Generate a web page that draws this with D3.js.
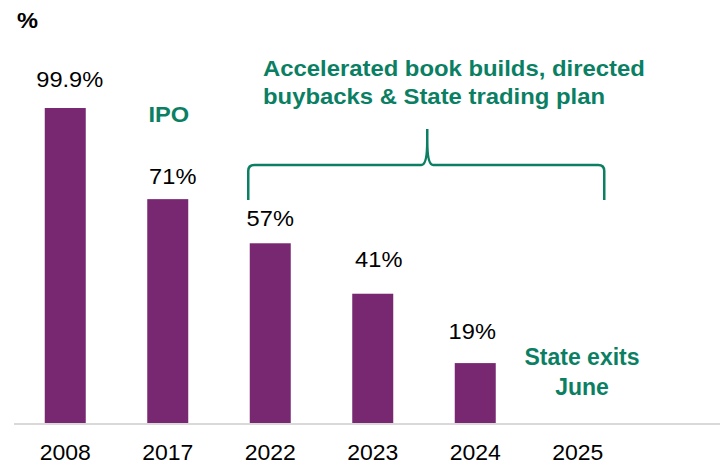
<!DOCTYPE html>
<html>
<head>
<meta charset="utf-8">
<script src="https://cdn.jsdelivr.net/npm/d3@7"></script>
<style>
  html, body { margin: 0; padding: 0; background: #fff; }
  svg { display: block; font-family: Arial, "Liberation Sans", sans-serif; }
</style>
</head>
<body>
<svg id="chart" width="720" height="464"></svg>
<script>
const categories = ["2008", "2017", "2022", "2023", "2024", "2025"];
const values = [99.9, 71, 57, 41, 19, null];
const valueLabels = ["99.9%", "71%", "57%", "41%", "19%", ""];
const unitLabel = "%";
const ipoNote = ["IPO"];
const bracketNote = ["Accelerated book builds, directed", "buybacks & State trading plan"];
const exitNote = ["State exits", "June"];

// layout: per-label nudges (px) as placed in the original slide
const labelNudgeX = [4.5, 5, 0, 6, -3, 0];
const labelGap = [21, 15, 17, 27, 24, 0];

const purple = "#772871";
const green = "#0b7f63";
const SX = 1.075;

const svg = d3.select("#chart");

const x = d3.scaleBand()
  .domain(categories)
  .range([14, 629])
  .paddingInner(0.6)
  .paddingOuter(0.3);

const y = d3.scaleLinear().domain([0, 100]).range([423, 107.7]);

function label(px, py, txt, opts) {
  const g = svg.append("g").attr("transform", `translate(${px},${py}) scale(${opts.sx || SX},1)`);
  g.append("text")
    .attr("x", 0).attr("y", 0)
    .attr("text-anchor", opts.anchor || "start")
    .attr("font-size", opts.size || 22)
    .attr("font-weight", opts.bold ? "bold" : "normal")
    .attr("fill", opts.fill || "#000")
    .text(txt);
}

// baseline
svg.append("line")
  .attr("x1", 14).attr("x2", 720)
  .attr("y1", y(0) + 1).attr("y2", y(0) + 1)
  .attr("stroke", "#d9d9d9").attr("stroke-width", 2);

// bars
const data = categories.map((c, i) => ({ c, v: values[i], l: valueLabels[i], i }));
svg.selectAll("rect.bar")
  .data(data.filter(d => d.v != null))
  .join("rect")
  .attr("class", "bar")
  .attr("x", d => x(d.c))
  .attr("width", x.bandwidth())
  .attr("y", d => y(d.v))
  .attr("height", d => y(0) - y(d.v))
  .attr("fill", purple);

// value labels
data.filter(d => d.v != null).forEach(d => {
  label(x(d.c) + x.bandwidth() / 2 + labelNudgeX[d.i], y(d.v) - labelGap[d.i], d.l, { anchor: "middle", size: 22 });
});

// x axis labels
const xAxis = d3.axisBottom(x).tickSize(0).tickPadding(0);
const gx = svg.append("g").attr("transform", `translate(0,${y(0)})`).call(xAxis);
gx.select(".domain").remove();
gx.selectAll(".tick text")
  .attr("y", 37)
  .attr("dy", null)
  .attr("transform", `scale(${SX - 0.03},1)`)
  .attr("font-size", 22)
  .attr("font-family", "Arial, 'Liberation Sans', sans-serif")
  .attr("fill", "#000");

// unit label
label(17, 28, unitLabel, { size: 22, bold: true });

// IPO
label(x("2017") + x.bandwidth() / 2 + 1, 122, ipoNote[0], { anchor: "middle", size: 22, bold: true, fill: green });

// bracket annotation text
bracketNote.forEach((t, i) => {
  label(263, 76 + i * 27.5, t, { size: 22, bold: true, fill: green, sx: 1.085 });
});

// bracket
const bx0 = x("2022") - 1.5, bx1 = x("2025") + x.bandwidth() + 6;
const bmid = (bx0 + bx1) / 2 + 1;
const yb = 200, yh = 165, yt = 129;
const r = 6;
const path = d3.path();
path.moveTo(bx0, yb);
path.lineTo(bx0, yh + r);
path.quadraticCurveTo(bx0, yh, bx0 + r, yh);
path.lineTo(bmid - r, yh);
path.quadraticCurveTo(bmid, yh, bmid, yt + 12);
path.lineTo(bmid, yt);
path.moveTo(bmid, yt + 12);
path.quadraticCurveTo(bmid, yh, bmid + r, yh);
path.lineTo(bx1 - r, yh);
path.quadraticCurveTo(bx1, yh, bx1, yh + r);
path.lineTo(bx1, yb);
svg.append("path")
  .attr("d", path.toString())
  .attr("fill", "none")
  .attr("stroke", green)
  .attr("stroke-width", 2.5);

// State exits note
exitNote.forEach((t, i) => {
  label(582, 365 + i * 30, t, { anchor: "middle", size: 23, bold: true, fill: green, sx: 1.0 });
});
</script>
</body>
</html>
